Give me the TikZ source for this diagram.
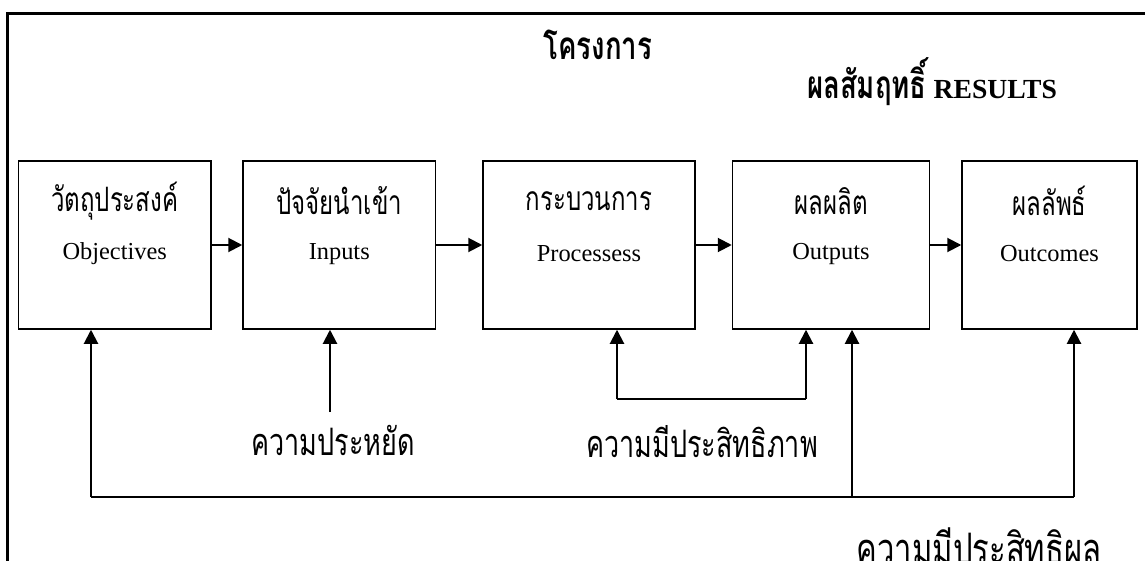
\documentclass[tikz,border=0pt]{standalone}
\usepackage{graphicx}
\usepackage{fontspec}
\setmainfont{Liberation Serif}
\newfontfamily\thai[Script=Thai]{Loma}
\newcommand\thx[1]{\scalebox{1}[1.4]{\thai #1}}
\usetikzlibrary{arrows.meta}
\begin{document}
\begin{tikzpicture}[x=1pt,y=-1pt,
  boxst/.style={draw,line width=1.5pt,minimum height=168pt,inner sep=0pt},
  arr/.style={line width=2pt,-{Triangle[length=14pt,width=14pt]}},
  conn/.style={line width=2pt},
  thtxt/.style={font=\fontsize{24}{28}\selectfont,inner sep=0pt},
  entxt/.style={font=\fontsize{24.4}{28}\selectfont,inner sep=0pt},
  ttl/.style={font=\bfseries\fontsize{27.6}{32}\selectfont,inner sep=0pt}]
\useasboundingbox (0,0) rectangle (1145,561);
% frame (top and left edges)
\draw[line width=2.5pt] (7.7,561) -- (7.7,13.5) -- (1145,13.5);
% titles
\node[ttl] (title) at (598,45) {\thx{โครงการ}};
\node[ttl,anchor=base] (results) at (932,99) {\thx{ผลสัมฤทธิ์} RESULTS};
% boxes
\node[boxst,minimum width=192.6pt] (b1) at (114.7,245) {};
\node[boxst,minimum width=192.5pt] (b2) at (339.25,245) {};
\node[boxst,minimum width=212pt] (b3) at (589,245) {};
\node[boxst,minimum width=197pt] (b4) at (831,245) {};
\node[boxst,minimum width=175pt] (b5) at (1049.5,245) {};
% box texts
\node[thtxt] (t1) at (114.7,201) {\thx{วัตถุประสงค์}};
\node[entxt] (e1) at (114.7,254) {Objectives};
\node[thtxt] (t2) at (339.25,201) {\thx{ปัจจัยนำเข้า}};
\node[entxt] (e2) at (339.25,254) {Inputs};
\node[thtxt] (t3) at (589,201) {\thx{กระบวนการ}};
\node[entxt] (e3) at (589,254) {Processess};
\node[thtxt] (t4) at (831,201) {\thx{ผลผลิต}};
\node[entxt] (e4) at (831,254) {Outputs};
\node[thtxt] (t5) at (1049.5,201) {\thx{ผลลัพธ์}};
\node[entxt] (e5) at (1049.5,254) {Outcomes};
% horizontal arrows
\draw[arr] (b1.east) -- (b2.west);
\draw[arr] (b2.east) -- (b3.west);
\draw[arr] (b3.east) -- (b4.west);
\draw[arr] (b4.east) -- (b5.west);
% economy
\node[thtxt,font=\fontsize{27}{30}\selectfont] (eco) at (333,440) {\thx{ความประหยัด}};
\coordinate (ecoTop) at (330,412);
\draw[arr] (ecoTop) -- (ecoTop |- b2.south);
% efficiency
\node[thtxt,font=\fontsize{27}{30}\selectfont] (eff) at (702,442) {\thx{ความมีประสิทธิภาพ}};
\coordinate (ef1) at (617,399);
\coordinate (ef2) at (806,399);
\draw[arr] (ef1) -- (ef1 |- b3.south);
\draw[arr] (ef2) -- (ef2 |- b4.south);
\draw[conn] (ef1) -- (ef2);
% effectiveness
\node[thtxt,font=\fontsize{31}{34}\selectfont] (efs) at (979,546) {\thx{ความมีประสิทธิผล}};
\coordinate (c1) at (91,497);
\coordinate (c4) at (852,497);
\coordinate (c5) at (1074,497);
\draw[conn] (c1) -- (c5);
\draw[arr] (c1) -- (c1 |- b1.south);
\draw[arr] (c4) -- (c4 |- b4.south);
\draw[arr] (c5) -- (c5 |- b5.south);
\end{tikzpicture}
\end{document}
